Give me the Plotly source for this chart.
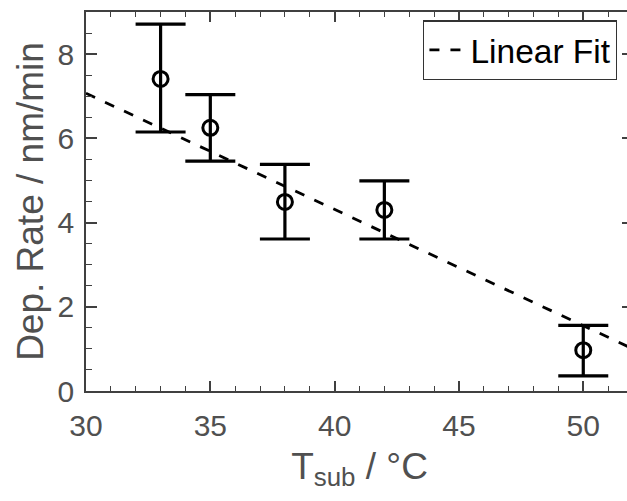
import plotly.graph_objects as go

# Data
temps = [33, 35, 38, 42, 50]            # T_sub / °C
rates = [7.41, 6.25, 4.49, 4.30, 0.97]  # Dep. Rate / nm/min
err_plus = [1.30, 0.79, 0.89, 0.69, 0.59]
err_minus = [1.26, 0.79, 0.88, 0.69, 0.61]

fit_x = [30, 52]
fit_y = [7.07, 1.00]

x_ticks = [30, 35, 40, 45, 50]
y_ticks = [0, 2, 4, 6, 8]

FONT = "Liberation Sans, Arial, sans-serif"
AX = "#404040"
LBL = "#505050"

fig = go.Figure()

fig.add_trace(go.Scatter(
    x=fit_x, y=fit_y, mode="lines", name="Linear Fit",
    line=dict(color="black", width=2.8, dash="10px,11px"),
))

fig.add_trace(go.Scatter(
    x=temps, y=rates, mode="markers", showlegend=False,
    marker=dict(symbol="circle-open", size=15, color="black",
                line=dict(color="black", width=3)),
    error_y=dict(type="data", array=err_plus, arrayminus=err_minus,
                 color="black", thickness=3.2, width=25),
))

fig.update_layout(
    width=634, height=501,
    margin=dict(l=86, r=1, t=12, b=110, autoexpand=False),
    paper_bgcolor="white", plot_bgcolor="white",
    font=dict(family=FONT, color=LBL),
    showlegend=True,
    legend=dict(
        x=0.971, xanchor="right", y=0.978, yanchor="top",
        bgcolor="white", bordercolor="#333333", borderwidth=1.3,
        font=dict(family=FONT, size=33.5, color="black"),
        itemwidth=36, tracegroupgap=0,
    ),
)

fig.update_xaxes(
    range=[30, 52], tickvals=x_ticks, ticktext=[str(v) for v in x_ticks],
    showgrid=False, zeroline=False,
    showline=True, linecolor=AX, linewidth=1.5, mirror="ticks",
    ticks="inside", ticklen=10, tickwidth=1.5, tickcolor=AX,
    minor=dict(dtick=1, ticks="inside", ticklen=5.5, tickwidth=1.3, tickcolor=AX),
    tickfont=dict(family=FONT, size=30, color=LBL),
    ticklabelstandoff=7,
    title=dict(text="T<sub>sub</sub> / °C", font=dict(family=FONT, size=37, color=LBL), standoff=12),
    automargin=False,
)

fig.update_yaxes(
    range=[0, 9], tickvals=y_ticks, ticktext=[str(v) for v in y_ticks],
    showgrid=False, zeroline=False,
    showline=True, linecolor=AX, linewidth=1.5, mirror="ticks",
    ticks="inside", ticklen=11, tickwidth=1.5, tickcolor=AX,
    minor=dict(dtick=0.5, ticks="inside", ticklen=6, tickwidth=1.3, tickcolor=AX),
    tickfont=dict(family=FONT, size=30, color=LBL),
    ticklabelstandoff=4,
    title=dict(text="Dep. Rate / nm/min", font=dict(family=FONT, size=37, color=LBL), standoff=3),
    automargin=False,
)

fig.write_html(
    "out.html",
    config={"displayModeBar": False},
    post_script="document.body.style.margin='0';document.body.style.overflow='hidden';"
                "document.documentElement.style.overflow='hidden';",
)
